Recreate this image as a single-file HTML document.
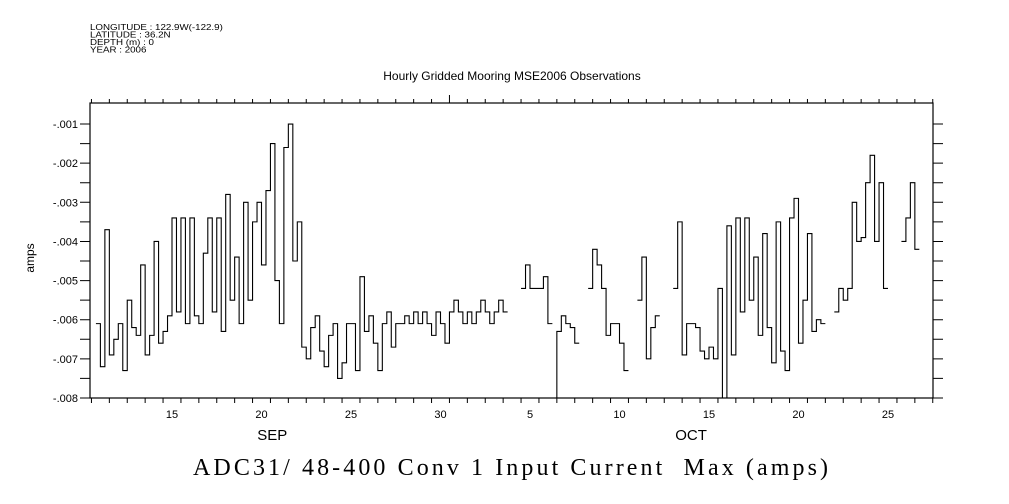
<!DOCTYPE html>
<html><head><meta charset="utf-8"><style>
html,body{margin:0;padding:0;background:#fff;}
svg{display:block;font-family:"Liberation Sans",sans-serif;}
</style></head><body>
<svg id="chart" width="1009" height="504" viewBox="0 0 1009 504" xmlns="http://www.w3.org/2000/svg">
<g font-size="8.5" fill="#000" transform="translate(90 0) scale(1.15 1) translate(-90 0)">
<text x="90" y="30">LONGITUDE : 122.9W(-122.9)</text>
<text x="90" y="37.5">LATITUDE : 36.2N</text>
<text x="90" y="45">DEPTH (m) : 0</text>
<text x="90" y="52.5">YEAR : 2006</text>
</g>
<text x="512" y="80" text-anchor="middle" font-size="12">Hourly Gridded Mooring MSE2006 Observations</text>
<text x="34" y="258" text-anchor="middle" font-size="12" transform="rotate(-90 34 258)">amps</text>
<text x="193" y="475" font-size="24" font-family="Liberation Serif,serif" textLength="635" lengthAdjust="spacing" xml:space="preserve">ADC31/ 48-400 Conv 1 Input Current  Max (amps)</text>
<g id="axes"></g>
<g id="series"></g>
</svg>
<script>
// y values in milliamps (scaled by valueScale to amps); x in day index (Sep d = d, Oct d = 30 + d), values every 0.25 day
const segStarts = [10.75, 34.5, 36.25, 38.25, 41.0, 43.0, 52.0, 55.75];
const segValues = [
 [-6.1,-7.2,-3.7,-6.9,-6.5,-6.1,-7.3,-5.5,-6.2,-6.4,-4.6,-6.9,-6.4,-4.0,-6.6,-6.3,-5.9,-3.4,-5.8,-3.4,-6.1,-3.4,-5.9,-6.1,-4.3,-3.4,-5.8,-3.4,-6.3,-2.8,-5.5,-4.4,-6.1,-3.0,-5.5,-3.5,-3.0,-4.6,-2.7,-1.5,-5.0,-6.1,-1.6,-1.0,-4.5,-3.5,-6.7,-7.0,-6.2,
  -5.9,-6.8,-7.2,-6.4,-6.1,-7.5,-7.1,-6.1,-6.1,-7.3,-4.9,-6.3,-5.9,-6.6,-7.3,-6.1,-5.8,-6.7,-6.1,-6.1,-5.9,-6.1,-5.8,-6.1,-5.8,-6.1,-6.4,-5.8,-6.1,-6.6,-5.8,-5.5,-5.8,-6.1,-5.8,-6.1,-5.8,-5.5,-5.8,-6.1,-5.8,-5.5,-5.8],
 [-5.2,-4.6,-5.2,-5.2,-5.2,-4.9,-6.1],
 [-8.0,-6.3,-5.9,-6.1,-6.2,-6.6],
 [-5.2,-4.2,-4.6,-5.2,-6.4,-6.1,-6.1,-6.6,-7.3],
 [-5.5,-4.4,-7.0,-6.2,-5.9],
 [-5.2,-3.5,-6.9,-6.1,-6.1,-6.2,-6.8,-7.0,-6.7,-7.0,-5.2,-8.0,-3.6,-6.9,-3.4,-5.8,-3.4,-5.5,-4.4,-6.4,-3.8,-6.2,-7.1,-3.5,-6.8,-7.3,-3.4,-2.9,-6.6,-5.5,-3.8,-6.3,-6.0,-6.1],
 [-5.8,-5.2,-5.5,-5.2,-3.0,-4.0,-3.9,-2.5,-1.8,-4.0,-2.5,-5.2],
 [-4.0,-3.4,-2.5,-4.2]
];
const valueScale = 0.001;
const yTicks = [-0.008,-0.007,-0.006,-0.005,-0.004,-0.003,-0.002,-0.001];
const yTickLabels = ["-.008","-.007","-.006","-.005","-.004","-.003","-.002","-.001"];
const xLabelDays = [15,20,25,30,35,40,45,50,55];
const xLabelText = ["15","20","25","30","5","10","15","20","25"];
const monthDays = [20.6,44];
const monthNames = ["SEP","OCT"];

const L=90,R=933,T=103,B=398;
const NS="http://www.w3.org/2000/svg";
function xs(d){return 172+(d-15)*17.9;}
function ys(v){return B-(v+0.008)/0.001*39.14;}
function mk(tag,attrs,parent){const e=document.createElementNS(NS,tag);for(const k in attrs)e.setAttribute(k,attrs[k]);parent.appendChild(e);return e;}
const ax=document.getElementById('axes');
const frame=mk('rect',{x:L,y:T,width:R-L,height:B-T,fill:'none',stroke:'#000','stroke-width':1.2},ax);


let tp='';
for(let d=11;d<=58;d++){const x=xs(d-0.5);if(x<L||x>R)continue;const big=(d===31);tp+=`M${x},${B}v5M${x},${T}v${big?-8:-4}`;}
for(let k=0;k<=14;k++){const y=ys(-0.008+k*0.0005);tp+=`M${L},${y}h-10M${R},${y}h10`;}
const ticks=mk('path',{d:tp,stroke:'#000','stroke-width':1,fill:'none'},ax);


yTicks.forEach((v,i)=>{const t=mk('text',{x:78,y:ys(v)+4,'text-anchor':'end','font-size':11},ax);t.textContent=yTickLabels[i];

});
xLabelDays.forEach((d,i)=>{const t=mk('text',{x:xs(d),y:418,'text-anchor':'middle','font-size':11},ax);t.textContent=xLabelText[i];

});
monthDays.forEach((d,i)=>{const t=mk('text',{x:xs(d),y:440,'text-anchor':'middle','font-size':15},ax);t.textContent=monthNames[i];

});
const sg=document.getElementById('series');
segValues.forEach((vals,si)=>{let d='';const dt=0.25;vals.forEach((v,i)=>{const x0=xs(segStarts[si]+i*dt),x1=xs(segStarts[si]+(i+1)*dt),y=ys(v*valueScale);d+=(i===0?`M${x0},${y}`:`V${y}`)+`H${x1}`;});
const p=mk('path',{d:d,stroke:'#000','stroke-width':1.1,fill:'none'},sg);

});
</script>
</body></html>
